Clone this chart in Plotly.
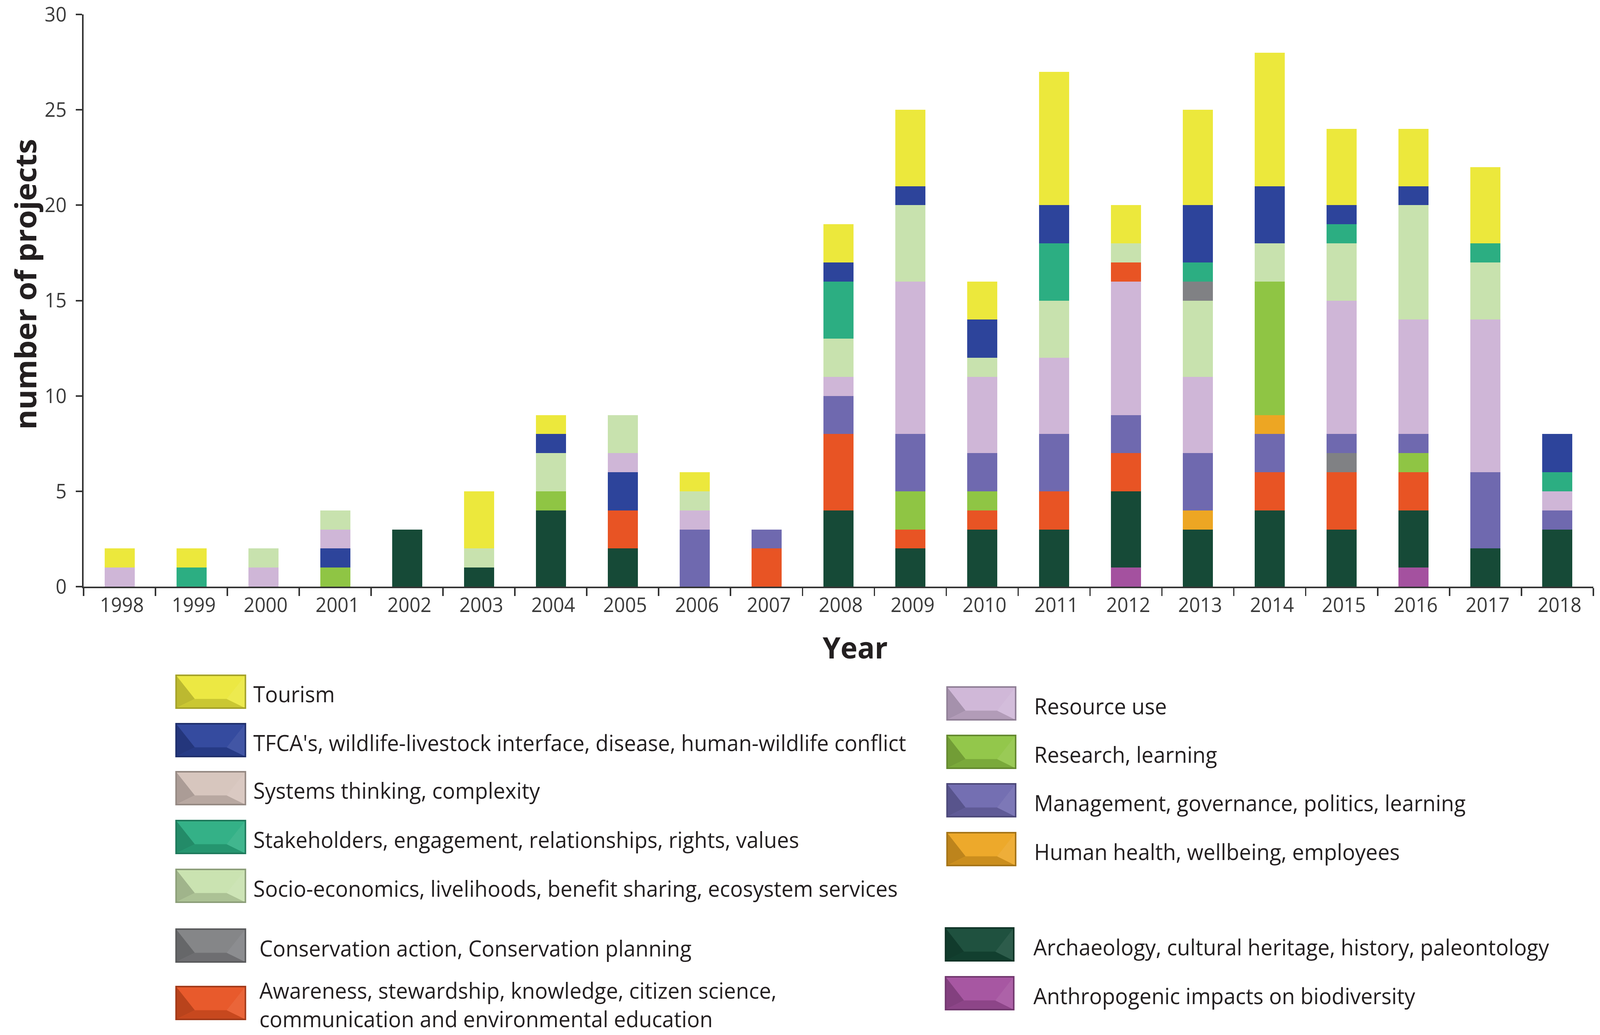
import plotly.graph_objects as go

# ---------------- data ----------------
years = ["1998", "1999", "2000", "2001", "2002", "2003", "2004", "2005", "2006", "2007",
         "2008", "2009", "2010", "2011", "2012", "2013", "2014", "2015", "2016", "2017", "2018"]

anthropogenic      = [0, 0, 0, 0, 0, 0, 0, 0, 0, 0, 0, 0, 0, 0, 1, 0, 0, 0, 1, 0, 0]
archaeology        = [0, 0, 0, 0, 3, 1, 4, 2, 0, 0, 4, 2, 3, 3, 4, 3, 4, 3, 3, 2, 3]
health             = [0, 0, 0, 0, 0, 0, 0, 0, 0, 0, 0, 0, 0, 0, 0, 1, 0, 0, 0, 0, 0]
awareness          = [0, 0, 0, 0, 0, 0, 0, 2, 0, 2, 4, 1, 1, 2, 2, 0, 2, 3, 2, 0, 0]
conservation       = [0, 0, 0, 0, 0, 0, 0, 0, 0, 0, 0, 0, 0, 0, 0, 0, 0, 1, 0, 0, 0]
research           = [0, 0, 0, 1, 0, 0, 1, 0, 0, 0, 0, 2, 1, 0, 0, 0, 0, 0, 1, 0, 0]
tfca_lower         = [0, 0, 0, 1, 0, 0, 0, 2, 0, 0, 0, 0, 0, 0, 0, 0, 0, 0, 0, 0, 0]
management         = [0, 0, 0, 0, 0, 0, 0, 0, 3, 1, 2, 3, 2, 3, 2, 3, 2, 1, 1, 4, 1]
health_upper       = [0, 0, 0, 0, 0, 0, 0, 0, 0, 0, 0, 0, 0, 0, 0, 0, 1, 0, 0, 0, 0]
research_upper     = [0, 0, 0, 0, 0, 0, 0, 0, 0, 0, 0, 0, 0, 0, 0, 0, 7, 0, 0, 0, 0]
resource_use       = [1, 0, 1, 1, 0, 0, 0, 1, 1, 0, 1, 8, 4, 4, 7, 4, 0, 7, 6, 8, 1]
awareness_upper    = [0, 0, 0, 0, 0, 0, 0, 0, 0, 0, 0, 0, 0, 0, 1, 0, 0, 0, 0, 0, 0]
socio_economics    = [0, 0, 1, 1, 0, 1, 2, 2, 1, 0, 2, 4, 1, 3, 1, 4, 2, 3, 6, 3, 0]
conservation_upper = [0, 0, 0, 0, 0, 0, 0, 0, 0, 0, 0, 0, 0, 0, 0, 1, 0, 0, 0, 0, 0]
stakeholders       = [0, 1, 0, 0, 0, 0, 0, 0, 0, 0, 3, 0, 0, 3, 0, 1, 0, 1, 0, 1, 1]
tfca               = [0, 0, 0, 0, 0, 0, 1, 0, 0, 0, 1, 1, 2, 2, 0, 3, 3, 1, 1, 0, 2]
tourism            = [1, 1, 0, 0, 0, 3, 1, 0, 1, 0, 2, 4, 2, 7, 2, 5, 7, 4, 3, 4, 0]
systems_thinking   = [0, 0, 0, 0, 0, 0, 0, 0, 0, 0, 0, 0, 0, 0, 0, 0, 0, 0, 0, 0, 0]

y_ticks = [0, 5, 10, 15, 20, 25, 30]

# category names
N_TOUR = "Tourism"
N_TFCA = "TFCA's, wildlife-livestock interface, disease, human-wildlife conflict"
N_SYS = "Systems thinking, complexity"
N_STAKE = "Stakeholders, engagement, relationships, rights, values"
N_SOCIO = "Socio-economics, livelihoods, benefit sharing, ecosystem services"
N_CONS = "Conservation action, Conservation planning"
N_AWARE = "Awareness, stewardship, knowledge, citizen science,<br>communication and environmental education"
N_RES = "Resource use"
N_RESEARCH = "Research, learning"
N_MGMT = "Management, governance, politics, learning"
N_HEALTH = "Human health, wellbeing, employees"
N_ARCH = "Archaeology, cultural heritage, history, paleontology"
N_ANTH = "Anthropogenic impacts on biodiversity"

# ---------------- style ----------------
colors = {
    N_TOUR: "#ECE83C",
    N_TFCA: "#2D449B",
    N_SYS: "#D6C4BC",
    N_STAKE: "#2CAE82",
    N_SOCIO: "#C8E2AE",
    N_CONS: "#808184",
    N_AWARE: "#E85424",
    N_RES: "#CFB6D7",
    N_RESEARCH: "#8FC544",
    N_MGMT: "#6F69AF",
    N_HEALTH: "#EDA623",
    N_ARCH: "#164A37",
    N_ANTH: "#A4519F",
}

# stacking order, bottom to top
stack = [
    (N_ANTH, anthropogenic),
    (N_ARCH, archaeology),
    (N_HEALTH, health),
    (N_AWARE, awareness),
    (N_CONS, conservation),
    (N_RESEARCH, research),
    (N_TFCA, tfca_lower),
    (N_MGMT, management),
    (N_HEALTH, health_upper),
    (N_RESEARCH, research_upper),
    (N_RES, resource_use),
    (N_AWARE, awareness_upper),
    (N_SOCIO, socio_economics),
    (N_CONS, conservation_upper),
    (N_STAKE, stakeholders),
    (N_TFCA, tfca),
    (N_TOUR, tourism),
    (N_SYS, systems_thinking),
]

W, H = 4244, 2650
PL, PR, PT, PB = 222, 4226, 37, 1502

fig = go.Figure()
for name, vals in stack:
    fig.add_trace(go.Bar(
        x=years, y=vals, name=name.replace("<br>", " "),
        marker=dict(color=colors[name], line=dict(width=0)),
        showlegend=False,
    ))

AX = "#333333"
FAM = "Open Sans, Noto Sans, sans-serif"
TICKFONT = dict(family=FAM, size=51, color="#3a3a3a")
fig.update_layout(
    barmode="stack",
    bargap=0.58,
    width=W, height=H,
    autosize=False,
    margin=dict(l=PL, r=W - PR, t=PT, b=H - PB, autoexpand=False),
    plot_bgcolor="white",
    paper_bgcolor="white",
    font=dict(family=FAM, color="#231F20"),
)
fig.update_xaxes(
    type="category", range=[-0.5, 20.5],
    showline=True, linecolor=AX, linewidth=4,
    ticks="outside", tickson="boundaries", ticklen=20, tickwidth=4, tickcolor=AX,
    tickfont=TICKFONT, showgrid=False, ticklabelshift=6, ticklabeloverflow="allow",
)
fig.update_yaxes(
    range=[0, 30], tickvals=y_ticks,
    showline=True, linecolor=AX, linewidth=4,
    ticks="outside", ticklen=17, tickwidth=4, tickcolor=AX,
    tickfont=TICKFONT, ticklabelstandoff=14, ticklabeloverflow="allow",
    showgrid=False, zeroline=False,
)


# ---------------- pixel helpers for layout ----------------
def px_x(px):
    return (px - PL) / (PR - PL)


def px_y(py):
    return (PB - py) / (PB - PT)


def shade(hexcol, f):
    h = hexcol.lstrip("#")
    r, g, b = (int(h[i:i + 2], 16) for i in (0, 2, 4))
    if f <= 1:
        r, g, b = r * f, g * f, b * f
    else:
        t = f - 1
        r, g, b = r + (255 - r) * t, g + (255 - g) * t, b + (255 - b) * t
    return "rgb(%d,%d,%d)" % (r, g, b)


def poly(points):
    return "M " + " L ".join("%.6f,%.6f" % (px_x(x), px_y(y)) for x, y in points) + " Z"


# axis titles
fig.add_annotation(xref="paper", yref="paper", x=px_x(2268), y=px_y(1656),
                   text="<b>Year</b>", showarrow=False, xanchor="center", yanchor="middle",
                   font=dict(family=FAM, size=76, color="#231F20"))
fig.add_annotation(xref="paper", yref="paper", x=px_x(66), y=px_y(728),
                   text="<b>number of projects</b>", showarrow=False, textangle=-90,
                   xanchor="center", yanchor="middle",
                   font=dict(family=FAM, size=78, color="#231F20"))

# ---------------- custom legend ----------------
legend_items = [
    # name, box left, box right, box center y, text x, text center y
    (N_TOUR, 467, 651, 1771, 670, 1777),
    (N_TFCA, 467, 651, 1895, 670, 1901),
    (N_SYS, 467, 651, 2018, 670, 2024),
    (N_STAKE, 467, 651, 2143, 670, 2149),
    (N_SOCIO, 467, 651, 2268, 670, 2274),
    (N_CONS, 467, 651, 2421, 686, 2427),
    (N_AWARE, 467, 651, 2568, 686, 2572),
    (N_RES, 2512, 2694, 1801, 2741, 1807),
    (N_RESEARCH, 2512, 2694, 1925, 2741, 1931),
    (N_MGMT, 2512, 2694, 2049, 2741, 2055),
    (N_HEALTH, 2512, 2694, 2174, 2741, 2180),
    (N_ARCH, 2508, 2689, 2418, 2739, 2424),
    (N_ANTH, 2508, 2689, 2543, 2739, 2549),
]
BOX_H = 84
LEG_FONT = dict(family=FAM, size=56.5, color="#231F20")
for name, x0, x1, cy, tx, ty in legend_items:
    col = colors[name]
    t, b = cy - BOX_H / 2, cy + BOX_H / 2
    w = x1 - x0
    fig.add_shape(type="rect", xref="paper", yref="paper",
                  x0=px_x(x0), x1=px_x(x1), y0=px_y(b), y1=px_y(t),
                  fillcolor=shade(col, 1.04), line=dict(width=0), layer="above")
    ix, iy = 0.27 * w, t + 0.72 * BOX_H
    fig.add_shape(type="path", xref="paper", yref="paper",
                  path=poly([(x0, t), (x0 + ix, iy), (x0, b)]),
                  fillcolor=shade(col, 0.8), line=dict(width=0), layer="above")
    fig.add_shape(type="path", xref="paper", yref="paper",
                  path=poly([(x0, b), (x0 + ix, iy), (x1 - ix, iy), (x1, b)]),
                  fillcolor=shade(col, 0.86), line=dict(width=0), layer="above")
    fig.add_shape(type="path", xref="paper", yref="paper",
                  path=poly([(x1, t), (x1, b), (x1 - ix, iy)]),
                  fillcolor=shade(col, 1.1), line=dict(width=0), layer="above")
    fig.add_shape(type="rect", xref="paper", yref="paper",
                  x0=px_x(x0), x1=px_x(x1), y0=px_y(b), y1=px_y(t),
                  fillcolor="rgba(0,0,0,0)", line=dict(color=shade(col, 0.7), width=4), layer="above")
    fig.add_annotation(xref="paper", yref="paper", x=px_x(tx), y=px_y(ty),
                       text=name, showarrow=False, xanchor="left", yanchor="middle",
                       align="left", font=LEG_FONT)

# fit the fixed-size figure to the browser viewport
post = (
    "var gd=document.getElementById('{plot_id}');"
    "document.documentElement.style.margin='0';"
    "document.body.style.margin='0';"
    "document.body.style.overflow='hidden';"
    "var sx=window.innerWidth/%d, sy=window.innerHeight/%d;"
    "gd.style.transformOrigin='0 0';"
    "gd.style.transform='scale('+sx+','+sy+')';" % (W, H)
)
fig.write_html("out.html", post_script=post, config={"displayModeBar": False})
